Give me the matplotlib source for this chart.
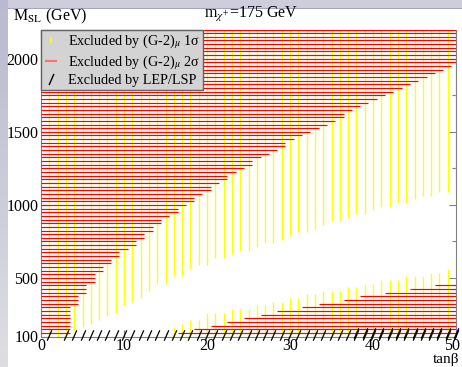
import numpy as np
import matplotlib.pyplot as plt
import matplotlib.transforms as mtransforms
from matplotlib.lines import Line2D
from matplotlib.path import Path

plt.rcParams['font.family'] = ['Liberation Serif', 'DejaVu Serif']
plt.rcParams['mathtext.fontset'] = 'stix'

# tan(beta) scan points
tanb = np.arange(1, 51)

# (g-2) 1 sigma, upper band: lowest excluded M_SL (GeV) for tanb = 1..50
g2_1s_upper_lo = [100, 100, 100, 150, 175, 200, 225, 250, 275, 325,
                  350, 375, 425, 475, 475, 525, 525, 575, 600, 600,
                  650, 650, 675, 700, 700, 725, 750, 750, 775, 800,
                  825, 825, 850, 875, 900, 900, 925, 950, 950, 975,
                  1000, 1000, 1025, 1025, 1050, 1075, 1075, 1100, 1100, 1125]
# (g-2) 1 sigma, lower band: highest excluded M_SL for tanb = 16..50
lower_tanb = np.arange(16, 51)
g2_1s_lower_hi = [150, 175, 200, 200, 250, 250, 250, 275, 275, 275,
                  300, 300, 325, 325, 350, 350, 375, 375, 400, 400,
                  400, 425, 425, 450, 450, 475, 475, 475, 500, 500,
                  500, 525, 525, 550, 550]

# (g-2) 2 sigma, upper-left region: largest excluded tanb per M_SL row
sig2_m = np.arange(125, 2201, 25)
sig2_xmax = [3, 3, 3, 3, 3, 3, 3, 3,
             4, 4, 4, 5, 5, 5, 6, 6, 6, 7,
             7, 8, 8, 9, 9, 10, 11, 11, 12, 12,
             13, 13, 14, 14, 15, 16, 16, 17, 18, 18,
             19, 20, 20, 21, 22, 22, 23, 24, 25, 25,
             26, 27, 28, 29, 29, 30, 31, 32, 33, 34,
             35, 36, 36, 37, 38, 39, 40, 41, 42, 43,
             44, 45, 46, 47, 48, 49, 50, 50, 50, 50,
             50, 50, 50, 50, 50, 50]
# (g-2) 2 sigma, lower-right region: smallest excluded tanb per row
sig2_low_m = np.arange(125, 451, 25)
sig2_low_xmin = [17, 19, 21, 23, 25, 27, 29, 32, 34, 37, 39, 42, 45, 48]

# LEP/LSP excluded points
lep_tanb = [1] + list(range(3, 51))
lep_m = [112] * len(lep_tanb)
lep2_tanb = list(range(38, 51))
lep2_m = [125] * len(lep2_tanb)

fig = plt.figure(figsize=(4.62, 3.67), dpi=100)

# slide background (lavender bands top and left)
bg = np.ones((367, 462, 3))
bg[:9, :, :] = np.array([205, 205, 220]) / 255
bg[8, :, :] = np.array([165, 165, 185]) / 255
grad = np.linspace(0, 1, 367)[:, None]
left_col = (np.array([185, 185, 208]) * (1 - grad) + np.array([222, 222, 226]) * grad) / 255
bg[:, :8, :] = left_col[:, None, :]
axbg = fig.add_axes([0, 0, 1, 1], zorder=-10)
axbg.imshow(bg, aspect='auto', extent=[0, 1, 0, 1])
axbg.axis('off')

ax = fig.add_axes([41 / 462, 1 - 336.5 / 367, 415 / 462, 307 / 367])
ax.set_xlim(0, 50)
ax.set_ylim(100, 2200)

ax.vlines(tanb, np.array(g2_1s_upper_lo) - 12.5, 2200, colors='yellow', lw=0.95, zorder=2)
ax.vlines(lower_tanb, 100, np.array(g2_1s_lower_hi) + 12.5, colors='yellow', lw=0.95, zorder=2)
ax.hlines(sig2_m, 0, np.array(sig2_xmax) + 0.45, colors='red', lw=0.85, zorder=3)
ax.hlines(sig2_low_m, np.array(sig2_low_xmin) - 0.55, 50, colors='red', lw=0.85, zorder=3)

slash = Path([(-0.22, -0.5), (0.22, 0.5)], [Path.MOVETO, Path.LINETO])
ax.plot(lep_tanb, lep_m, ls='none', marker=slash, ms=7.5, mec='k', mfc='none',
        mew=0.9, clip_on=False, zorder=4)
ax.plot(lep2_tanb, lep2_m, ls='none', marker=slash, ms=7.5, mec='k', mfc='none',
        mew=0.9, clip_on=False, zorder=4)

for s in ax.spines.values():
    s.set_color('#808080')
    s.set_linewidth(0.8)
ax.set_xticks([0, 10, 20, 30, 40, 50])
ax.set_xticks(np.arange(5, 50, 10), minor=True)
ax.set_yticks([100, 500, 1000, 1500, 2000])
ax.set_yticks([250, 750, 1250, 1750], minor=True)
ax.tick_params(which='both', direction='in', top=True, right=True, color='#808080',
               labelsize=11.5, pad=2)
ax.tick_params(axis='x', pad=1)
ax.tick_params(which='major', length=5, width=0.8)
ax.tick_params(which='minor', length=3, width=0.8)
# keep "50" inside the picture
last = ax.get_xticklabels()[-1]
last.set_transform(last.get_transform() + mtransforms.ScaledTranslation(-4 / 100, 0, fig.dpi_scale_trans))

handles = [
    Line2D([], [], ls='none', marker='|', color='yellow', ms=5, mew=1.2),
    Line2D([], [], ls='none', marker='_', color='#ff7070', ms=8, mew=1.5),
    Line2D([], [], ls='none', marker=slash, mec='k', mfc='none', ms=8, mew=1),
]
labels = [r'Excluded by (G-2)$_{\mu}$ 1σ', r'Excluded by (G-2)$_{\mu}$ 2σ',
          'Excluded by LEP/LSP']
leg = ax.legend(handles, labels, loc='upper left', bbox_to_anchor=(0, 1),
                borderaxespad=0, fancybox=False, framealpha=1, facecolor='#d3d3d3',
                edgecolor='#606060', fontsize=10.2, handlelength=1.0,
                handletextpad=0.7, labelspacing=0.15, borderpad=0.2)
leg.get_frame().set_linewidth(1)

fig.text(13 / 462, 1 - 16 / 367, r'M$_{\rm SL}$ (GeV)', fontsize=11.5, va='center', ha='left')
fig.text(204 / 462, 1 - 15 / 367, r'm$_{\chi^{+}}$=175 GeV', fontsize=11.5, va='center', ha='left')
fig.text(459 / 462, 1 - 359 / 367, 'tanβ', fontsize=11, va='center', ha='right')

fig.savefig('out.png', dpi=100)
